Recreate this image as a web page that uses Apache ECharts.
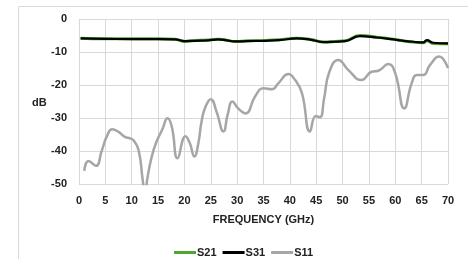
<!DOCTYPE html>
<html><head><meta charset="utf-8">
<script src="https://cdn.jsdelivr.net/npm/echarts@6/dist/echarts.min.js"></script>
<style>html,body{margin:0;padding:0;background:#fff}#c{width:468px;height:259px}</style>
</head><body><div id="c"></div>
<script>
var xTicks = [0,5,10,15,20,25,30,35,40,45,50,55,60,65,70];
var yTicks = [0,-10,-20,-30,-40,-50];
var s11Freq = [1,1.8,3.2,4.3,5.3,6.3,7.5,8.7,9.7,10.3,11.3,12.1,12.5,13.0,13.8,14.7,15.8,16.8,17.6,18.7,20.2,21,21.9,22.6,23.3,24,25.0,26.1,27.4,28.2,29.1,30.2,31.6,33.4,35.0,36.6,37.8,39.7,41.0,42.3,43.8,44.9,45.7,46.5,47.5,49.2,51.1,53.6,55.5,56.8,58.7,60.0,61.7,63.1,64.1,65.3,66.6,68.3,70];
var s11Val = [-46,-43,-44.5,-40,-35.5,-33.4,-34.2,-35.7,-36.2,-36.7,-39.7,-49,-53,-48,-41.7,-37.2,-33.5,-30.1,-32.6,-42.2,-35.5,-37.5,-41.7,-38,-30.6,-26.6,-24.3,-28.1,-34.1,-29,-25.0,-27.1,-28.6,-23.5,-21.0,-21.3,-19.5,-16.7,-18.5,-22.5,-34.1,-29.4,-29.8,-24,-16,-12.4,-15.5,-18.5,-16.0,-15.7,-13.6,-16.5,-27.1,-19.5,-17.0,-17.0,-13.9,-11.4,-14.9];
var sFreq = [0.3,5,10,15,18.2,20.1,22,24.5,26.4,28,29.6,32,35.3,38,41.3,44,46.4,48.5,50.5,53.3,56.5,59.6,61.5,63.4,65.3,66,67.2,70];
var s31Val = [-5.9,-6.0,-6.1,-6.1,-6.2,-6.7,-6.6,-6.5,-6.2,-6.5,-6.8,-6.7,-6.6,-6.4,-5.9,-6.3,-7.0,-6.9,-6.7,-5.2,-5.6,-6.2,-6.6,-6.9,-7.1,-6.4,-7.2,-7.4];
var s21Val = [-5.8,-6.0,-6.0,-6.0,-6.1,-6.8,-6.5,-6.4,-6.1,-6.4,-6.8,-6.6,-6.5,-6.3,-5.8,-6.2,-7.0,-6.8,-6.6,-5.0,-5.5,-6.1,-6.6,-7.0,-7.2,-6.6,-7.4,-7.5];

function pairs(xs, ys){ return xs.map(function(x,i){return [x, ys[i]];}); }
var font = 'Liberation Sans';
var chart = echarts.init(document.getElementById('c'), null, {renderer:'canvas'});
chart.setOption({
  animation:false,
  backgroundColor:'#fff',
  graphic:[
    {type:'rect', shape:{x:18.5,y:6.5,width:460,height:300}, style:{fill:'none',stroke:'#d9d9d9',lineWidth:1}, z:-1},
    {type:'text', left:32, top:97, style:{text:'dB', font:'bold 11px "'+font+'"', fill:'#222'}}
  ],
  grid:{left:79, right:20, top:19, bottom:75},
  xAxis:{type:'value', min:0, max:70, interval:5,
    name:'FREQUENCY (GHz)', nameLocation:'middle', nameGap:30,
    nameTextStyle:{fontFamily:font, fontWeight:'bold', fontSize:11, color:'#222'},
    axisLine:{show:false}, axisTick:{show:false},
    axisLabel:{margin:11, fontFamily:font, fontWeight:'bold', fontSize:11, color:'#222',
      formatter:function(v){return xTicks.indexOf(v)>=0 ? String(v) : '';}},
    splitLine:{show:true, lineStyle:{color:'#d9d9d9', width:1}}},
  yAxis:{type:'value', min:-50, max:0, interval:10,
    axisLine:{show:false}, axisTick:{show:false},
    axisLabel:{margin:12, fontFamily:font, fontWeight:'bold', fontSize:11, color:'#222',
      formatter:function(v){return yTicks.indexOf(v)>=0 ? String(v) : '';}},
    splitLine:{show:true, lineStyle:{color:'#d9d9d9', width:1}}},
  legend:{top:242, left:169, itemWidth:22, itemHeight:3, itemGap:6, icon:'rect',
    textStyle:{fontFamily:font, fontWeight:'bold', fontSize:11, color:'#222', padding:[0,0,0,-4]},
    data:['S21','S31','S11']},
  series:[
    {name:'S21', type:'line', data:pairs(sFreq, s21Val), smooth:true, showSymbol:false, symbol:'none',
      lineStyle:{color:'#4ea72e', width:3}, itemStyle:{color:'#4ea72e'}, z:2},
    {name:'S31', type:'line', data:pairs(sFreq, s31Val), smooth:true, showSymbol:false, symbol:'none',
      lineStyle:{color:'#000', width:2.2}, itemStyle:{color:'#000'}, z:3},
    {name:'S11', type:'line', data:pairs(s11Freq, s11Val), smooth:true, showSymbol:false, symbol:'none',
      lineStyle:{color:'#a6a6a6', width:2.5}, itemStyle:{color:'#a6a6a6'}, z:1}
  ]
});
</script></body></html>
